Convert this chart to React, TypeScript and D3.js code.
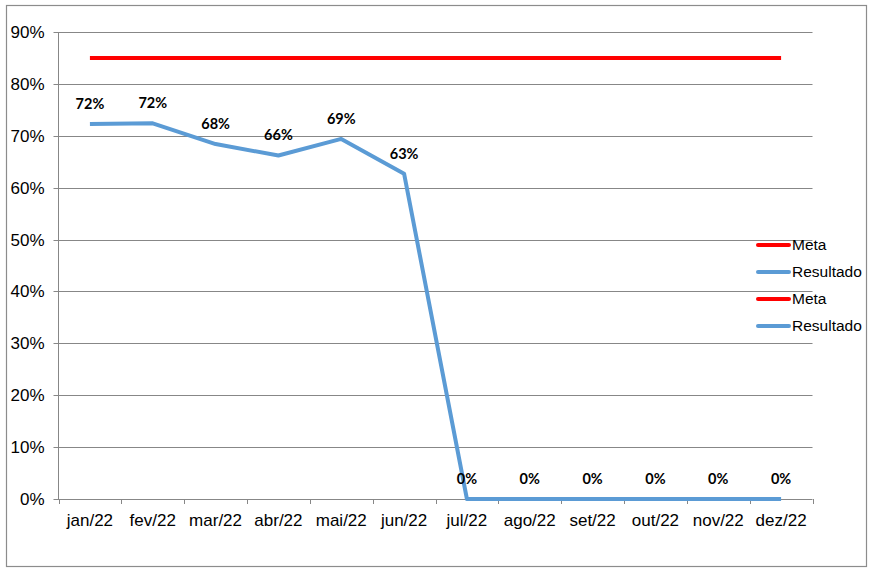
import React from 'react';
import * as d3 from 'd3';

// chart data
const months = ['jan/22', 'fev/22', 'mar/22', 'abr/22', 'mai/22', 'jun/22', 'jul/22', 'ago/22', 'set/22', 'out/22', 'nov/22', 'dez/22'];
const resultado = [0.7225, 0.724, 0.684, 0.662, 0.694, 0.627, 0, 0, 0, 0, 0, 0];
const meta = [0.85, 0.85, 0.85, 0.85, 0.85, 0.85, 0.85, 0.85, 0.85, 0.85, 0.85, 0.85];
const yTicks = [0, 0.1, 0.2, 0.3, 0.4, 0.5, 0.6, 0.7, 0.8, 0.9];
const legendItems = [
  { name: 'Meta', color: '#FF0000' },
  { name: 'Resultado', color: '#5B9BD5' },
  { name: 'Meta', color: '#FF0000' },
  { name: 'Resultado', color: '#5B9BD5' },
];

const W = 870;
const H = 569;
const plot = { left: 58.5, right: 812.5, top: 32, bottom: 499 };

const App = () => {
  const x = d3.scaleBand<string>().domain(months).range([plot.left, plot.right]);
  const y = d3.scaleLinear().domain([0, 0.9]).range([plot.bottom, plot.top]);
  const cx = (m: string) => (x(m) ?? 0) + x.bandwidth() / 2;

  const line = d3.line<number>()
    .x((_, i) => cx(months[i]))
    .y(d => y(d));

  const fmt = d3.format('.0%');
  const grid = '#878787';
  const bounds = [...months.map(m => x(m) ?? 0), plot.right];

  return (
    <svg width={W} height={H} style={{ position: 'absolute', left: 0, top: 0, background: '#fff' }}>
      <rect x={6.5} y={5.5} width={860} height={561} fill="#fff" stroke="#8c8c8c" strokeWidth={1.2} />

      {/* gridlines + y labels */}
      {yTicks.map(t => (
        <g key={t}>
          <line x1={plot.left - 5} x2={plot.right} y1={Math.round(y(t)) + 0.5} y2={Math.round(y(t)) + 0.5} stroke={grid} strokeWidth={1} />
          <text x={plot.left - 14} y={y(t)} dy="0.35em" textAnchor="end"
            style={{ fontFamily: 'Liberation Sans, Arial, sans-serif', fontSize: 17, fill: '#000' }}>
            {fmt(t)}
          </text>
        </g>
      ))}

      {/* axes */}
      <line x1={plot.left} x2={plot.left} y1={plot.top} y2={plot.bottom} stroke={grid} strokeWidth={1} />
      {bounds.map((b, i) => (
        <line key={i} x1={Math.round(b) + 0.5} x2={Math.round(b) + 0.5} y1={plot.bottom} y2={plot.bottom + 5} stroke={grid} strokeWidth={1} />
      ))}
      {months.map(m => (
        <text key={m} x={cx(m)} y={plot.bottom + 21} dy="0.35em" textAnchor="middle"
          style={{ fontFamily: 'Liberation Sans, Arial, sans-serif', fontSize: 17, fill: '#000' }}>
          {m}
        </text>
      ))}

      {/* series */}
      <path d={line(meta) ?? ''} fill="none" stroke="#FF0000" strokeWidth={4} />
      <path d={line(resultado) ?? ''} fill="none" stroke="#5B9BD5" strokeWidth={4} strokeLinejoin="round" />

      {/* data labels */}
      {resultado.map((v, i) => (
        <text key={i} x={cx(months[i])} y={y(v) - 15} textAnchor="middle"
          style={{ fontFamily: 'Lato, Open Sans, sans-serif', fontWeight: 700, fontSize: 14.5, fill: '#000' }}>
          {fmt(v)}
        </text>
      ))}

      {/* legend */}
      {legendItems.map((it, i) => (
        <g key={i} transform={`translate(757, ${245 + i * 27})`}>
          <line x1={1} x2={32} y1={0} y2={0} stroke={it.color} strokeWidth={4} strokeLinecap="round" />
          <text x={35} y={0} dy="0.35em"
            style={{ fontFamily: 'Liberation Sans, Arial, sans-serif', fontSize: 15.5, fill: '#000' }}>
            {it.name}
          </text>
        </g>
      ))}
    </svg>
  );
};

export default App;
